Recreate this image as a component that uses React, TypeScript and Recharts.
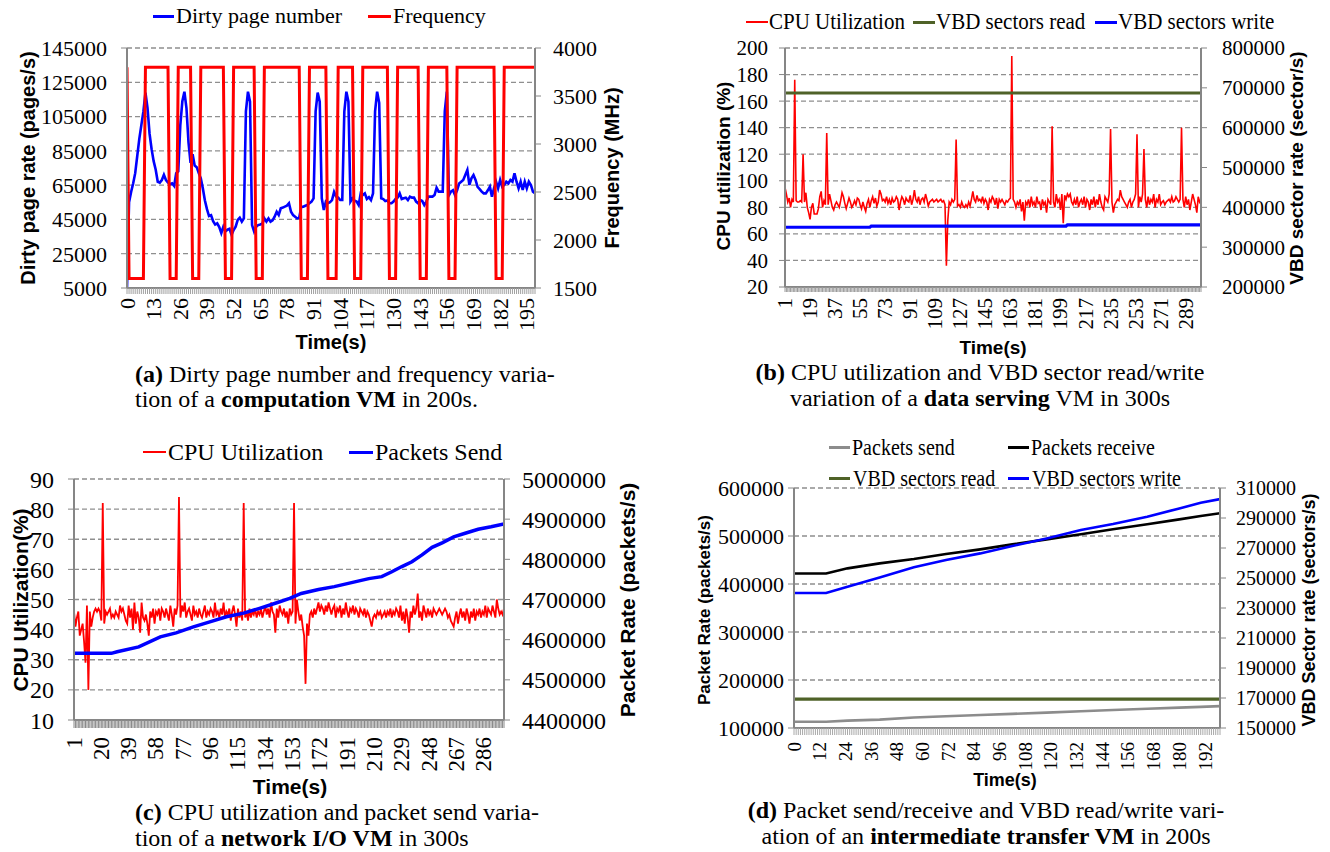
import React from 'react';
import { LineChart, Line, XAxis, YAxis, CartesianGrid } from 'recharts';

const SERIF = '"Liberation Serif","Times New Roman",Times,serif';
const SANS = '"Liberation Sans",Arial,Helvetica,sans-serif';

// ---------------- (a) computation VM, t = 0..199 ----------------
const dirtyPageNumber = [
  5000, 55000, 61000, 66000, 72000, 82000, 92000, 100000, 108000, 119000,
  110000, 95000, 86000, 79000, 74000, 67000, 66500, 68000, 71000, 68000,
  66500, 65500, 66000, 64500, 72000, 73000, 100000, 114000, 119500, 110000,
  90000, 78000, 83000, 76500, 75500, 72000, 69000, 63000, 56000, 51000,
  47000, 47500, 44000, 42000, 42700, 40500, 37000, 40800, 38000, 39000,
  39500, 36000, 38800, 40800, 44700, 46000, 43700, 45600, 108000, 119500,
  113700, 41700, 38000, 40800, 41700, 42000, 42500, 45600, 43700, 45600,
  43700, 44500, 46600, 49500, 47600, 51500, 51900, 52500, 53000, 54400,
  49500, 47500, 46600, 45600, 46000, 52400, 52400, 53000, 53400, 54500,
  55400, 57300, 108000, 119000, 113700, 57300, 50500, 55400, 54400, 55000,
  56300, 61000, 58300, 57700, 56300, 56300, 107900, 119500, 113700, 55400,
  57300, 56000, 55400, 53400, 60200, 59200, 60200, 56900, 58000, 56300,
  60200, 108000, 119500, 113000, 57300, 56900, 55700, 56000, 54400, 54400,
  55400, 56900, 57700, 60200, 56900, 57300, 57700, 56300, 58300, 57700,
  57700, 55400, 54400, 56300, 55700, 53400, 55400, 58300, 58300, 58300,
  59200, 63500, 61200, 61200, 61200, 108000, 119500, 59000, 61200, 62000,
  59200, 62000, 66000, 67000, 68000, 70900, 73800, 65100, 69000, 70900,
  68000, 64000, 62700, 61200, 60200, 60200, 62000, 64100, 58300, 63100,
  67000, 63100, 68000, 64100, 65100, 67000, 66000, 68000, 67000, 71900,
  67000, 63100, 67000, 62200, 67000, 63100, 67000, 65100, 61200, 60200,
];
const frequencyMHz = [
  3800, 1600, 1600, 1600, 1600, 1600, 1600, 1600, 1600, 3800,
  3800, 3800, 3800, 3800, 3800, 3800, 3800, 3800, 3800, 3800,
  3800, 1600, 1600, 1600, 1600, 3800, 3800, 3800, 3800, 3800,
  3800, 3800, 1600, 1600, 1600, 1600, 3800, 3800, 3800, 3800,
  3800, 3800, 3800, 3800, 3800, 3800, 3800, 3800, 1600, 1600,
  1600, 1600, 3800, 3800, 3800, 3800, 3800, 3800, 3800, 3800,
  3800, 3800, 3800, 1600, 1600, 1600, 1600, 3800, 3800, 3800,
  3800, 3800, 3800, 3800, 3800, 3800, 3800, 3800, 3800, 3800,
  3800, 3800, 3800, 3800, 3800, 1600, 1600, 1600, 1600, 3800,
  3800, 3800, 3800, 3800, 3800, 3800, 3800, 3800, 1600, 1600,
  1600, 1600, 1600, 3800, 3800, 3800, 3800, 3800, 3800, 3800,
  3800, 1600, 1600, 1600, 1600, 3800, 3800, 3800, 3800, 3800,
  3800, 3800, 3800, 3800, 3800, 3800, 3800, 3800, 1600, 1600,
  1600, 1600, 3800, 3800, 3800, 3800, 3800, 3800, 3800, 3800,
  3800, 3800, 3800, 1600, 1600, 1600, 1600, 3800, 3800, 3800,
  3800, 3800, 3800, 3800, 3800, 3800, 3800, 1600, 1600, 1600,
  1600, 3800, 3800, 3800, 3800, 3800, 3800, 3800, 3800, 3800,
  3800, 3800, 3800, 3800, 3800, 3800, 3800, 3800, 3800, 3800,
  1600, 1600, 1600, 1600, 3800, 3800, 3800, 3800, 3800, 3800,
  3800, 3800, 3800, 3800, 3800, 3800, 3800, 3800, 3800, 3800,
];
const timeLabelsA = [0, 13, 26, 39, 52, 65, 78, 91, 104, 117, 130, 143, 156, 169, 182, 195];
const dirtyTicksA = [5000, 25000, 45000, 65000, 85000, 105000, 125000, 145000];
const freqTicksA = [1500, 2000, 2500, 3000, 3500, 4000];

// ---------------- (b) data serving VM, t = 1..300 ----------------
const cpuUtilB = [
  95, 90, 84, 87, 80, 86, 84, 176, 85, 84,
  84, 85, 84, 120, 84, 91, 80, 76, 71, 80,
  83, 75, 75, 75, 79, 88, 92, 80, 85, 82,
  136, 82, 90, 85, 80, 78, 82, 84, 82, 80,
  85, 91, 88, 83, 79, 83, 87, 84, 80, 82,
  85, 82, 87, 86, 82, 79, 84, 80, 77, 83,
  86, 80, 85, 88, 83, 87, 81, 84, 93, 90,
  85, 86, 84, 88, 83, 86, 82, 87, 84, 85,
  88, 86, 78, 84, 88, 86, 82, 87, 85, 84,
  89, 82, 86, 93, 86, 84, 88, 82, 86, 87,
  84, 90, 86, 81, 84, 85, 86, 84, 85, 86,
  84, 85, 86, 84, 85, 82, 36, 70, 84, 82,
  86, 84, 86, 131, 81, 82, 80, 84, 81, 80,
  82, 80, 84, 81, 86, 92, 86, 84, 89, 85,
  86, 84, 88, 83, 86, 84, 78, 86, 84, 88,
  86, 82, 87, 79, 86, 84, 86, 84, 82, 85,
  84, 86, 87, 194, 86, 84, 80, 84, 82, 86,
  77, 84, 70, 84, 82, 86, 80, 88, 82, 84,
  80, 88, 83, 84, 78, 86, 82, 84, 76, 86,
  84, 82, 141, 84, 80, 90, 84, 86, 78, 90,
  68, 89, 86, 90, 88, 90, 84, 82, 86, 82,
  88, 80, 84, 86, 82, 88, 80, 86, 84, 78,
  86, 82, 88, 80, 86, 82, 90, 84, 80, 78,
  88, 86, 84, 90, 139, 84, 76, 82, 84, 86,
  85, 93, 88, 86, 84, 82, 80, 84, 86, 80,
  84, 86, 90, 135, 80, 88, 84, 90, 124, 86,
  80, 88, 82, 86, 84, 90, 80, 86, 84, 90,
  82, 84, 85, 82, 84, 85, 86, 84, 88, 84,
  85, 88, 86, 84, 86, 140, 86, 80, 88, 82,
  86, 78, 84, 90, 86, 82, 76, 88, 84, 86,
];
const vbdReadTimeB = [1, 300];
const vbdReadB = [687000, 687000];
const vbdWriteTimeB = [1, 62, 63, 203, 204, 300];
const vbdWriteB = [350000, 350000, 353000, 353000, 356000, 356000];
const timeLabelsB = [1, 19, 37, 55, 73, 91, 109, 127, 145, 163, 181, 199, 217, 235, 253, 271, 289];
const cpuTicksB = [20, 40, 60, 80, 100, 120, 140, 160, 180, 200];
const sectorTicksB = [200000, 300000, 400000, 500000, 600000, 700000, 800000];

// ---------------- (c) network I/O VM, t = 1..300 ----------------
const cpuUtilC = [
  46, 41, 44, 46, 38, 40, 42, 36, 29, 48,
  20, 46, 41, 44, 46, 47, 46, 47, 46, 43,
  82, 42, 46, 45, 46, 47, 44, 45, 44, 46,
  45, 44, 48, 46, 47, 45, 43, 42, 48, 44,
  47, 40, 49, 42, 46, 44, 39, 49, 44, 43,
  45, 42, 38, 46, 44, 47, 42, 46, 45, 47,
  43, 47, 46, 44, 47, 45, 43, 48, 45, 41,
  47, 45, 48, 84, 44, 48, 46, 49, 44, 46,
  47, 45, 43, 48, 45, 46, 44, 47, 45, 44,
  46, 48, 44, 46, 45, 47, 46, 44, 49, 45,
  46, 44, 47, 45, 49, 44, 46, 45, 47, 43,
  46, 48, 45, 41, 47, 44, 46, 43, 82, 44,
  46, 43, 47, 44, 46, 45, 47, 44, 46, 45,
  47, 44, 46, 48, 45, 47, 44, 49, 46, 45,
  39, 47, 44, 48, 46, 45, 47, 44, 46, 42,
  47, 45, 46, 82, 42, 50, 46, 43, 45, 41,
  38, 22, 42, 38, 45, 46, 44, 47, 45, 47,
  49, 46, 48, 47, 45, 48, 46, 49, 47, 45,
  47, 48, 44, 47, 46, 48, 44, 47, 45, 49,
  46, 44, 47, 46, 48, 45, 47, 46, 44, 47,
  46, 45, 47, 44, 46, 45, 43, 41, 44, 45,
  44, 46, 45, 46, 44, 45, 46, 44, 46, 45,
  47, 44, 46, 45, 47, 46, 44, 48, 43, 46,
  42, 47, 44, 39, 46, 44, 48, 45, 47, 52,
  44, 46, 43, 48, 46, 44, 47, 45, 46, 44,
  47, 46, 45, 46, 47, 46, 45, 46, 47, 46,
  44, 45, 43, 42, 41, 44, 46, 42, 45, 47,
  44, 46, 43, 47, 45, 42, 46, 44, 47, 43,
  46, 45, 47, 44, 46, 45, 48, 44, 47, 46,
  45, 48, 46, 44, 50, 47, 45, 46, 45, 47,
];
const packetTimeC = [1, 27, 31, 46, 61, 72, 84, 96, 107, 119, 130, 142, 151, 159, 171, 182, 194, 206, 215, 222, 229, 236, 243, 250, 257, 265, 273, 282, 291, 300];
const packetsSendC = [
  4566000, 4566000, 4570000, 4582000, 4607000, 4617000, 4632000, 4645000, 4657000, 4666000,
  4678000, 4692000, 4703000, 4715000, 4725000, 4732000, 4742000, 4752000, 4757000, 4769000,
  4782000, 4794000, 4811000, 4830000, 4841000, 4856000, 4865000, 4875000, 4881000, 4888000,
];
const timeLabelsC = [1, 20, 39, 58, 77, 96, 115, 134, 153, 172, 191, 210, 229, 248, 267, 286];
const cpuTicksC = [10, 20, 30, 40, 50, 60, 70, 80, 90];
const packetTicksC = [4400000, 4500000, 4600000, 4700000, 4800000, 4900000, 5000000];

// ---------------- (d) intermediate transfer VM, t = 0..199 ----------------
const timeD = [0, 15, 25, 40, 56, 71, 87, 102, 118, 134, 149, 165, 180, 190, 199];
const packetsSendD = [113000, 113000, 115300, 117500, 122000, 124500, 127000, 129500, 132000, 134800, 137500, 140000, 142400, 144000, 145500];
const packetsReceiveD = [422000, 422000, 432600, 443000, 452100, 462500, 472200, 482600, 493000, 503500, 513900, 524300, 534700, 541500, 547500];
const vbdWriteD = [240000, 240000, 244200, 250400, 257100, 262000, 266400, 271300, 276400, 282000, 286000, 290900, 296400, 300200, 302600];
const vbdReadTimeD = [0, 199];
const vbdReadD = [169300, 169300];
const timeLabelsD = [0, 12, 24, 36, 48, 60, 72, 84, 96, 108, 120, 132, 144, 156, 168, 180, 192];
const packetTicksD = [100000, 200000, 300000, 400000, 500000, 600000];
const sectorTicksD = [150000, 170000, 190000, 210000, 230000, 250000, 270000, 290000, 310000];

// ---------------- helpers ----------------
type Pt = { t: number; v: number };
const seq = (vals: number[], start: number): Pt[] => vals.map((v, i) => ({ t: i + start, v }));
const zip = (ts: number[], vs: number[]): Pt[] => ts.map((t, i) => ({ t, v: vs[i] }));
const range = (a: number, b: number) => Array.from({ length: b - a + 1 }, (_, i) => a + i);

const BLUE = '#0000FF';
const RED = '#FF0000';
const GREEN = '#4F6228';
const GRAY = '#8C8C8C';
const AXIS = '#868686';

type AxisCfg = { ticks: number[]; width: number; fs: number; gap: number };
type LineCfg = { key: string; data: Pt[]; axis: 0 | 'right'; color: string; width: number };
type PanelCfg = {
  x: number; y: number; w: number; h: number;
  margin: { top: number; right: number; bottom: number; left: number };
  xRange: [number, number]; xLabels: number[]; xH: number; xFs: number; xTickLen: number; xGap: number; xTickColor: string;
  left: AxisCfg; right: AxisCfg; lines: LineCfg[];
};

function Panel({ c }: { c: PanelCfg }) {
  const xTicks = range(c.xRange[0], c.xRange[1]);
  const labelSet = new Set(c.xLabels);
  const renderXTick = (p: any) => {
    const { x, y, payload } = p;
    if (!labelSet.has(payload.value)) return <g />;
    return (
      <text x={x} y={y} transform={`rotate(-90 ${x} ${y})`} textAnchor="end" dominantBaseline="central"
        fontFamily={SERIF} fontSize={c.xFs} fill="#000">{payload.value}</text>
    );
  };
  const l = c.left;
  const r = c.right;
  return (
    <div style={{ position: 'absolute', left: c.x, top: c.y }}>
      <LineChart width={c.w} height={c.h} margin={c.margin}>
        <CartesianGrid yAxisId={0} vertical={false} stroke="#8f8f8f" strokeDasharray="5 3" strokeWidth={1.3} />
        <XAxis type="number" dataKey="t" domain={c.xRange} ticks={xTicks} interval={0} height={c.xH}
          tick={renderXTick} tickSize={c.xTickLen} tickMargin={c.xGap}
          tickLine={{ stroke: c.xTickColor, strokeWidth: 1 }} axisLine={{ stroke: AXIS, strokeWidth: 2 }}
          allowDataOverflow />
        <YAxis yAxisId={0} orientation="left" type="number" domain={[l.ticks[0], l.ticks[l.ticks.length - 1]]}
          ticks={l.ticks} interval={0} width={l.width} tickSize={6} tickMargin={l.gap}
          tick={{ fill: '#000', fontSize: l.fs, fontFamily: SERIF }} tickLine={{ stroke: AXIS }}
          axisLine={{ stroke: AXIS, strokeWidth: 2 }} allowDataOverflow />
        <YAxis yAxisId="right" orientation="right" type="number" domain={[r.ticks[0], r.ticks[r.ticks.length - 1]]}
          ticks={r.ticks} interval={0} width={r.width} tickSize={6} tickMargin={r.gap}
          tick={{ fill: '#000', fontSize: r.fs, fontFamily: SERIF }} tickLine={{ stroke: AXIS }}
          axisLine={{ stroke: AXIS, strokeWidth: 2 }} allowDataOverflow />
        {c.lines.map((ln) => (
          <Line key={ln.key} yAxisId={ln.axis} data={ln.data} dataKey="v" type="linear" stroke={ln.color}
            strokeWidth={ln.width} dot={false} activeDot={false} isAnimationActive={false} />
        ))}
      </LineChart>
    </div>
  );
}

const panelA: PanelCfg = {
  x: 0, y: 0, w: 620, h: 360, margin: { top: 48, right: 15, bottom: 22, left: 0 },
  xRange: [0, 199], xLabels: timeLabelsA, xH: 50, xFs: 22, xTickLen: 6, xGap: 4, xTickColor: '#a0a0a0',
  left: { ticks: dirtyTicksA, width: 127, fs: 22, gap: 14 },
  right: { ticks: freqTicksA, width: 70, fs: 22, gap: 12 },
  lines: [
    { key: 'dirty', data: seq(dirtyPageNumber, 0), axis: 0, color: BLUE, width: 2.6 },
    { key: 'freq', data: seq(frequencyMHz, 0), axis: 'right', color: RED, width: 3 },
  ],
};
const panelB: PanelCfg = {
  x: 680, y: 0, w: 650, h: 360, margin: { top: 48, right: 39, bottom: 23, left: 0 },
  xRange: [1, 300], xLabels: timeLabelsB, xH: 50, xFs: 21, xTickLen: 5, xGap: 6, xTickColor: '#9a9a9a',
  left: { ticks: cpuTicksB, width: 105, fs: 21, gap: 11 },
  right: { ticks: sectorTicksB, width: 90, fs: 21, gap: 15 },
  lines: [
    { key: 'cpu', data: seq(cpuUtilB, 1), axis: 0, color: RED, width: 1.6 },
    { key: 'read', data: zip(vbdReadTimeB, vbdReadB), axis: 'right', color: GREEN, width: 3.2 },
    { key: 'write', data: zip(vbdWriteTimeB, vbdWriteB), axis: 'right', color: BLUE, width: 3.2 },
  ],
};
const panelC: PanelCfg = {
  x: 0, y: 430, w: 620, h: 360, margin: { top: 49, right: 26, bottom: 20, left: 0 },
  xRange: [1, 300], xLabels: timeLabelsC, xH: 50, xFs: 23, xTickLen: 8, xGap: 9, xTickColor: '#8a8a8a',
  left: { ticks: cpuTicksC, width: 74, fs: 24, gap: 14 },
  right: { ticks: packetTicksC, width: 90, fs: 24, gap: 12 },
  lines: [
    { key: 'cpu', data: seq(cpuUtilC, 1), axis: 0, color: RED, width: 1.8 },
    { key: 'pkt', data: zip(packetTimeC, packetsSendC), axis: 'right', color: BLUE, width: 3.5 },
  ],
};
const panelD: PanelCfg = {
  x: 680, y: 430, w: 650, h: 360, margin: { top: 58, right: 20, bottom: 17, left: 0 },
  xRange: [0, 199], xLabels: timeLabelsD, xH: 45, xFs: 19, xTickLen: 7, xGap: 7, xTickColor: '#a8a8a8',
  left: { ticks: packetTicksD, width: 114, fs: 22, gap: 4 },
  right: { ticks: sectorTicksD, width: 90, fs: 20, gap: 10 },
  lines: [
    { key: 'send', data: zip(timeD, packetsSendD), axis: 0, color: GRAY, width: 2.6 },
    { key: 'recv', data: zip(timeD, packetsReceiveD), axis: 0, color: '#000000', width: 2.6 },
    { key: 'read', data: zip(vbdReadTimeD, vbdReadD), axis: 'right', color: GREEN, width: 3.2 },
    { key: 'write', data: zip(timeD, vbdWriteD), axis: 'right', color: BLUE, width: 2.6 },
  ],
};

// ---------------- text overlays ----------------
type LegItem = { lx: number; lw: number; th: number; color: string; tx: number; y: number; text: string; fs: number; sy: number };
const legendItems: LegItem[] = [
  { lx: 153, lw: 21, th: 3, color: BLUE, tx: 176, y: 16, text: 'Dirty page number', fs: 22, sy: 1 },
  { lx: 368, lw: 23, th: 3, color: RED, tx: 393, y: 16, text: 'Frequency', fs: 22, sy: 1 },
  { lx: 746, lw: 22, th: 2, color: RED, tx: 769, y: 22, text: 'CPU Utilization', fs: 21, sy: 1.12 },
  { lx: 913, lw: 22, th: 3, color: GREEN, tx: 936, y: 22, text: 'VBD sectors read', fs: 21, sy: 1.12 },
  { lx: 1095, lw: 22, th: 3, color: BLUE, tx: 1118, y: 22, text: 'VBD sectors write', fs: 21, sy: 1.12 },
  { lx: 143, lw: 23, th: 2, color: RED, tx: 168, y: 452, text: 'CPU Utilization', fs: 24, sy: 1 },
  { lx: 349, lw: 24, th: 3, color: BLUE, tx: 375, y: 452, text: 'Packets Send', fs: 24, sy: 1 },
  { lx: 829, lw: 21, th: 3, color: GRAY, tx: 852, y: 447, text: 'Packets send', fs: 20, sy: 1.12 },
  { lx: 1008, lw: 21, th: 3, color: '#000000', tx: 1031, y: 447, text: 'Packets receive', fs: 20, sy: 1.12 },
  { lx: 829, lw: 21, th: 3, color: GREEN, tx: 853, y: 478, text: 'VBD sectors read', fs: 20, sy: 1.12 },
  { lx: 1008, lw: 21, th: 3, color: BLUE, tx: 1032, y: 478, text: 'VBD sectors write', fs: 20, sy: 1.12 },
];

type Title = { cx: number; cy: number; text: string; fs: number; rot: boolean };
const axisTitles: Title[] = [
  { cx: 28, cy: 168, text: 'Dirty page rate (pages/s)', fs: 20, rot: true },
  { cx: 612, cy: 168, text: 'Frequency (MHz)', fs: 20, rot: true },
  { cx: 331, cy: 342, text: 'Time(s)', fs: 20, rot: false },
  { cx: 723, cy: 166, text: 'CPU utilization (%)', fs: 19, rot: true },
  { cx: 1296, cy: 168, text: 'VBD sector rate (sector/s)', fs: 19, rot: true },
  { cx: 993, cy: 347, text: 'Time(s)', fs: 19, rot: false },
  { cx: 20, cy: 600, text: 'CPU Utilization(%)', fs: 21, rot: true },
  { cx: 627, cy: 600, text: 'Packet Rate (packets/s)', fs: 21, rot: true },
  { cx: 290, cy: 786, text: 'Time(s)', fs: 21, rot: false },
  { cx: 704, cy: 610, text: 'Packet Rate (packets/s)', fs: 17, rot: true },
  { cx: 1309, cy: 610, text: 'VBD Sector rate (sectors/s)', fs: 18, rot: true },
  { cx: 1005, cy: 780, text: 'Time(s)', fs: 18, rot: false },
];

type Cap = { x: number; cy: number; center: boolean; parts: [string, boolean][] };
const captions: Cap[] = [
  { x: 135, cy: 374, center: false, parts: [['(a)', true], [' Dirty page number and frequency varia-', false]] },
  { x: 135, cy: 399, center: false, parts: [['tion of a ', false], ['computation VM', true], [' in 200s.', false]] },
  { x: 980, cy: 372, center: true, parts: [['(b)', true], [' CPU utilization and VBD sector read/write', false]] },
  { x: 980, cy: 398, center: true, parts: [['variation of a ', false], ['data serving', true], [' VM in 300s', false]] },
  { x: 135, cy: 812, center: false, parts: [['(c)', true], [' CPU utilization and packet send varia-', false]] },
  { x: 135, cy: 838, center: false, parts: [['tion of a ', false], ['network I/O VM', true], [' in 300s', false]] },
  { x: 986, cy: 810, center: true, parts: [['(d)', true], [' Packet send/receive and VBD read/write vari-', false]] },
  { x: 986, cy: 836, center: true, parts: [['ation of an ', false], ['intermediate transfer VM', true], [' in 200s', false]] },
];

export default function App() {
  return (
    <div style={{ position: 'absolute', left: 0, top: 0, width: 1330, height: 852, background: '#fff', overflow: 'hidden' }}>
      <Panel c={panelA} />
      <Panel c={panelB} />
      <Panel c={panelC} />
      <Panel c={panelD} />
      {legendItems.map((it, i) => (
        <React.Fragment key={'lg' + i}>
          <div style={{ position: 'absolute', left: it.lx, top: it.y - it.th / 2, width: it.lw, height: it.th, background: it.color }} />
          <div style={{ position: 'absolute', left: it.tx, top: it.y, transform: `translateY(-50%) scaleY(${it.sy})`, fontFamily: SERIF, fontSize: it.fs, lineHeight: 1, whiteSpace: 'nowrap', color: '#000' }}>{it.text}</div>
        </React.Fragment>
      ))}
      {axisTitles.map((t, i) => (
        <div key={'at' + i} style={{ position: 'absolute', left: t.cx, top: t.cy, transform: `translate(-50%,-50%)${t.rot ? ' rotate(-90deg)' : ''}`, fontFamily: SANS, fontWeight: 'bold', fontSize: t.fs, lineHeight: 1, whiteSpace: 'nowrap', color: '#000' }}>{t.text}</div>
      ))}
      {captions.map((cp, i) => (
        <div key={'cp' + i} style={{ position: 'absolute', left: cp.x, top: cp.cy, transform: cp.center ? 'translate(-50%,-50%)' : 'translateY(-50%)', fontFamily: SERIF, fontSize: 24, lineHeight: 1, whiteSpace: 'nowrap', color: '#000' }}>
          {cp.parts.map(([s, b], j) => (
            <span key={j} style={{ fontWeight: b ? 'bold' : 'normal' }}>{s}</span>
          ))}
        </div>
      ))}
    </div>
  );
}
